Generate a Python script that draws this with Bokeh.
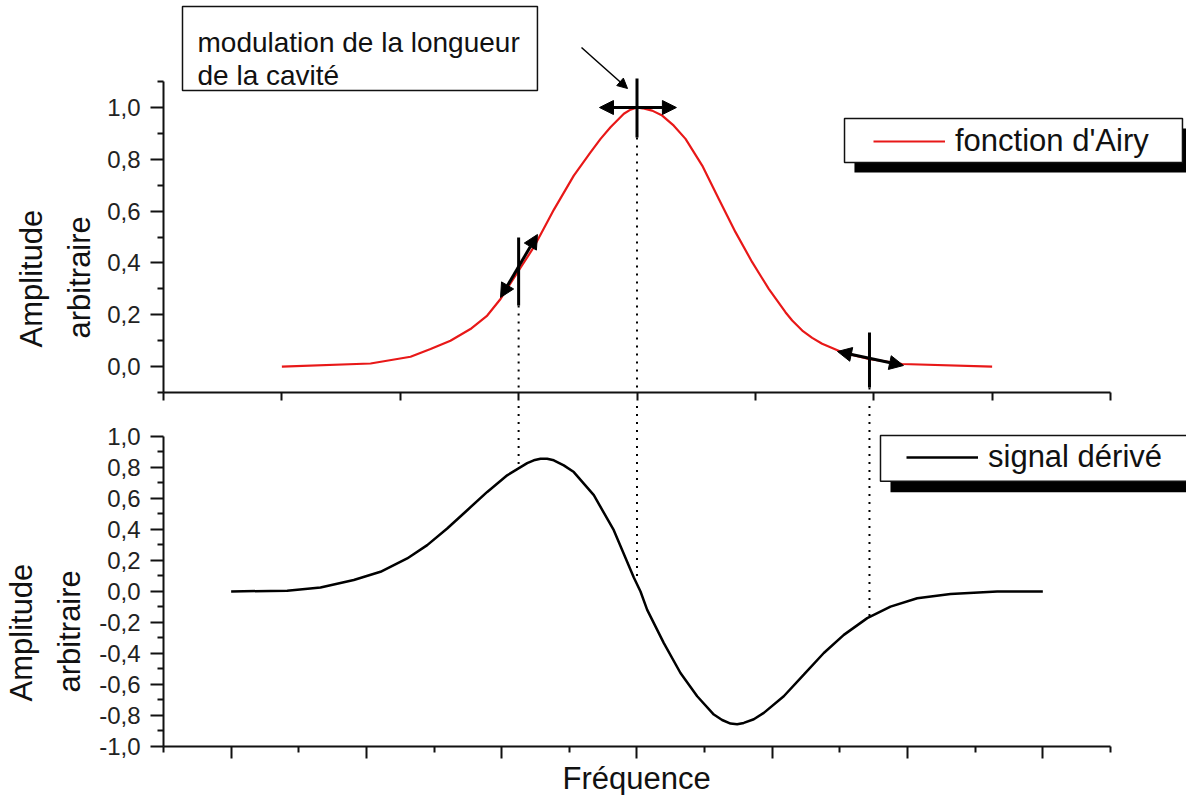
import math
import numpy as np
from bokeh.plotting import figure
from bokeh.layouts import column
from bokeh.models import (Range1d, FixedTicker, CustomJSTickFormatter, Legend, LegendItem,
                          BoxAnnotation, Label, Arrow, NormalHead, Title)
from bokeh.embed import file_html
from bokeh.resources import INLINE

FONT = "Liberation Sans"
INK = "#111111"

# ---------------- data ----------------
# top panel : fonction d'Airy (x in top-axis units, 0..8)
airy_x = [1.0, 1.749, 2.087, 2.256, 2.424, 2.593, 2.735, 2.847, 3.001, 3.128,
          3.241, 3.297, 3.466, 3.607, 3.692, 3.776, 3.889, 3.945, 4.0, 4.046,
          4.128, 4.213, 4.311, 4.410, 4.551, 4.691, 4.832, 4.973, 5.113, 5.254,
          5.311, 5.396, 5.480, 5.564, 5.733, 5.958, 6.240, 7.0]
airy_y = [0.0, 0.012, 0.038, 0.068, 0.100, 0.145, 0.197, 0.261, 0.371, 0.461,
          0.557, 0.605, 0.737, 0.827, 0.879, 0.924, 0.976, 0.992, 1.0, 0.997,
          0.988, 0.969, 0.930, 0.879, 0.776, 0.647, 0.519, 0.403, 0.300, 0.210,
          0.178, 0.139, 0.111, 0.088, 0.055, 0.030, 0.010, 0.0]

# bottom panel : signal dérivé (x in bottom-axis units, 0..14)
deriv_x = [1.0, 1.829, 2.321, 2.813, 3.208, 3.603, 3.899, 4.194, 4.490, 4.786,
           5.081, 5.377, 5.474, 5.574, 5.672, 5.770, 5.918, 6.066, 6.362, 6.657,
           6.953, 7.052, 7.151, 7.397, 7.643, 7.890, 8.136, 8.259, 8.383, 8.481,
           8.579, 8.727, 8.875, 9.170, 9.466, 9.762, 10.058, 10.404, 10.748, 11.143,
           11.635, 12.326, 13.0]
deriv_y = [0.0, 0.005, 0.025, 0.074, 0.127, 0.213, 0.299, 0.406, 0.524, 0.642,
           0.749, 0.828, 0.846, 0.856, 0.856, 0.846, 0.813, 0.770, 0.621, 0.395,
           0.09, 0.0, -0.119, -0.333, -0.526, -0.676, -0.794, -0.829, -0.852, -0.856,
           -0.848, -0.824, -0.783, -0.676, -0.537, -0.397, -0.280, -0.172, -0.098, -0.044,
           -0.016, -0.001, 0.0]

# modulation points on the Airy curve (top-axis units)
mod_x = [3.0, 4.0, 5.964]

# ticks and tick labels
top_x_ticks = [0, 1, 2, 3, 4, 5, 6, 7, 8]
top_y_ticks = [0.0, 0.2, 0.4, 0.6, 0.8, 1.0]
top_y_minor = [-0.1, 0.1, 0.3, 0.5, 0.7, 0.9, 1.1]
top_y_labels = ["0,0", "0,2", "0,4", "0,6", "0,8", "1,0"]

bot_x_ticks = [1, 3, 5, 7, 9, 11, 13]
bot_x_minor = [0, 2, 4, 6, 8, 10, 12, 14]
bot_y_ticks = [-1.0, -0.8, -0.6, -0.4, -0.2, 0.0, 0.2, 0.4, 0.6, 0.8, 1.0]
bot_y_minor = [-0.9, -0.7, -0.5, -0.3, -0.1, 0.1, 0.3, 0.5, 0.7, 0.9]
bot_y_labels = ["-1,0", "-0,8", "-0,6", "-0,4", "-0,2", "0,0", "0,2", "0,4", "0,6", "0,8", "1,0"]

TXT_BOX = ["modulation de la longueur", "de la cavité"]
Y_TITLE = ["Amplitude", "arbitraire"]
X_TITLE = "Fréquence"
LEG_TOP = "fonction d'Airy"
LEG_BOT = "signal dérivé"

FMT_CODE = """
for (let i = 0; i < vals.length; i++) {
  if (Math.abs(vals[i] - tick) < 1e-6) { return labs[i]; }
}
return '';
"""


def base_fig(h, xr, yr, bottom):
    p = figure(width=1186, height=h, x_range=Range1d(*xr), y_range=Range1d(*yr),
               output_backend="svg", toolbar_location=None,
               min_border_left=163, min_border_right=0, min_border_top=0,
               min_border_bottom=bottom)
    p.outline_line_color = None
    p.grid.visible = False
    p.background_fill_color = "white"
    p.border_fill_color = "white"
    return p


def style_y(ax, ticks, minor, labels, bounds):
    ax.ticker = FixedTicker(ticks=ticks, minor_ticks=minor)
    ax.formatter = CustomJSTickFormatter(args=dict(vals=ticks, labs=labels), code=FMT_CODE)
    ax.bounds = bounds
    ax.axis_line_width = 2
    ax.axis_line_color = INK
    ax.major_tick_line_width = 2
    ax.minor_tick_line_width = 2
    ax.major_tick_line_color = INK
    ax.minor_tick_line_color = INK
    ax.major_tick_out = 13
    ax.major_tick_in = 0
    ax.minor_tick_out = 6
    ax.minor_tick_in = 0
    ax.major_label_text_font = FONT
    ax.major_label_text_font_size = "24px"
    ax.major_label_text_color = "#222222"
    ax.major_label_standoff = 10


def style_x(ax, ticks, minor, bounds, major_out, minor_out):
    ax.ticker = FixedTicker(ticks=ticks, minor_ticks=minor)
    ax.formatter = CustomJSTickFormatter(code="return '';")
    ax.bounds = bounds
    ax.axis_line_width = 2
    ax.axis_line_color = INK
    ax.major_tick_line_width = 2
    ax.minor_tick_line_width = 2
    ax.major_tick_line_color = INK
    ax.minor_tick_line_color = INK if minor else None
    ax.major_tick_out = major_out
    ax.major_tick_in = 0
    ax.minor_tick_out = minor_out
    ax.minor_tick_in = 0
    ax.major_label_text_font_size = "1px"
    ax.major_label_standoff = 0


def add_y_titles(p, so_inner, so_outer):
    # first added = closest to the axis
    for t, off, so in [(Y_TITLE[1], 54, so_inner), (Y_TITLE[0], 45, so_outer)]:
        p.add_layout(Title(text=t, align="left", offset=off, standoff=so,
                           text_font=FONT, text_font_size="31px", text_font_style="normal",
                           text_color=INK), "left")


# ---------------- top panel ----------------
# frame: x 163..1186, y 0..392 ; 118.375 px / x-unit, 259.07 px / y-unit
p1 = base_fig(405, (0, 8.642), (-0.1, 1.4131), 13)
style_x(p1.xaxis[0], top_x_ticks, [], (0, 8), 8, 0)
style_y(p1.yaxis[0], top_y_ticks, top_y_minor, top_y_labels, (-0.1, 1.1))
add_y_titles(p1, 16, 6)

r_airy = p1.line(airy_x, airy_y, line_color="#e81818", line_width=2.2)

# modulation crosses
cross_len = [(0.236, 0.498), (0.884, 1.112), (-0.081, 0.132)]
p1.segment(x0=mod_x, y0=[c[0] for c in cross_len], x1=mod_x, y1=[c[1] for c in cross_len],
           line_color="black", line_width=3)

# double arrows (tangent modulation)
dbl = [((2.847, 0.2667), (3.159, 0.5099)),
       ((3.683, 1.0), (4.333, 1.0)),
       ((5.694, 0.0583), (6.251, 0.0042))]
for (xs, ys), (xe, ye) in dbl:
    p1.add_layout(Arrow(x_start=xs, y_start=ys, x_end=xe, y_end=ye, line_width=3,
                        line_color="black",
                        start=NormalHead(size=14, fill_color="black", line_color="black"),
                        end=NormalHead(size=14, fill_color="black", line_color="black")))

# dotted guides (top part, running down past the axis)
for mx, (yb, _) in zip(mod_x, cross_len):
    p1.add_layout(Arrow(x_start=mx, y_start=yb, x_end=mx, y_end=-0.16, end=None,
                        line_width=2, line_dash="2 6", line_color="black"))

# annotation text box + pointer
p1.add_layout(BoxAnnotation(left=0.1605, right=3.159, top=1.39, bottom=1.0657,
                            fill_color="white", fill_alpha=1, line_color=INK, line_alpha=1,
                            line_width=1.5))
for i, t in enumerate(TXT_BOX):
    p1.add_layout(Label(x=0.2872, y=[1.251, 1.1236][i], text=t, text_font=FONT,
                        text_font_size="28px", text_color=INK, text_baseline="alphabetic"))
p1.add_layout(Arrow(x_start=3.531, y_start=1.2317, x_end=3.920, y_end=1.0734, line_width=1.5,
                    line_color="black",
                    end=NormalHead(size=10, fill_color="black", line_color="black")))

# legend with shadow
p1.add_layout(BoxAnnotation(left=5.837, right=8.9, top=0.9190, bottom=0.7492,
                            fill_color="black", fill_alpha=1, line_color=None))
p1.add_layout(BoxAnnotation(left=5.753, right=8.608, top=0.9576, bottom=0.7878,
                            fill_color="white", fill_alpha=1, line_color=INK, line_alpha=1,
                            line_width=1.5))
leg1 = Legend(items=[LegendItem(label=LEG_TOP, renderers=[r_airy])], location=(710, 231),
              padding=0, margin=0, spacing=0, border_line_alpha=0, background_fill_alpha=0,
              glyph_width=72, glyph_height=40, label_height=40, label_standoff=10,
              label_text_font=FONT, label_text_font_size="31px", label_text_color=INK)
p1.add_layout(leg1)

# ---------------- bottom panel ----------------
# frame: x 163..1186, y 405..747 ; 67.643 px / x-unit, 155.5 px / y-unit
p2 = base_fig(390, (0, 15.124), (-1.0, 1.1994), 48)
style_x(p2.xaxis[0], bot_x_ticks, bot_x_minor, (0, 14), 12, 6)
style_y(p2.yaxis[0], bot_y_ticks, bot_y_minor, bot_y_labels, (-1.0, 1.0))
add_y_titles(p2, 20, 2)
p2.add_layout(Title(text=X_TITLE, align="left", offset=399, standoff=0, text_font=FONT,
                    text_font_size="31px", text_font_style="normal", text_color=INK), "below")

r_der = p2.line(deriv_x, deriv_y, line_color="black", line_width=2.5)

scale = 14 / 8
bx = [m * scale for m in mod_x]
by = [float(np.interp(v, deriv_x, deriv_y)) for v in bx]
by[1] = 0.09
p2.segment(x0=bx, y0=[1.3] * 3, x1=bx, y1=by, line_color="black", line_width=2, line_dash="2 6")

p2.add_layout(BoxAnnotation(left=10.748, right=15.5, top=0.9421, bottom=0.6399,
                            fill_color="black", fill_alpha=1, line_color=None))
p2.add_layout(BoxAnnotation(left=10.600, right=15.212, top=1.0064, bottom=0.7106,
                            fill_color="white", fill_alpha=1, line_color=INK, line_alpha=1,
                            line_width=1.5))
leg2 = Legend(items=[LegendItem(label=LEG_BOT, renderers=[r_der])], location=(743, 269.5),
              padding=0, margin=0, spacing=0, border_line_alpha=0, background_fill_alpha=0,
              glyph_width=72, glyph_height=40, label_height=40, label_standoff=10,
              label_text_font=FONT, label_text_font_size="31px", label_text_color=INK)
p2.add_layout(leg2)

layout = column(p1, p2, spacing=0)
open("out.html", "w").write(file_html(layout, INLINE))
